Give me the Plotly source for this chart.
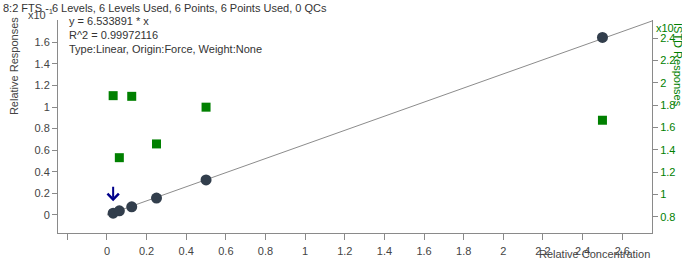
import plotly.graph_objects as go

# ---- data ----
conc = [0.03125, 0.0625, 0.125, 0.25, 0.5, 2.5]
rel_resp = [0.17, 0.38, 0.76, 1.57, 3.25, 16.45]          # x10^1 displayed
istd_resp = [1.885, 1.33, 1.879, 1.453, 1.782, 1.665]      # right axis units
slope = 6.533891
fit_x = [0.0, 2.75]
fit_y = [slope * v for v in fit_x]

x_ticks = [-0.2, 0, 0.2, 0.4, 0.6, 0.8, 1, 1.2, 1.4, 1.6, 1.8, 2, 2.2, 2.4, 2.6]
x_ticktext = ["", "0", "0.2", "0.4", "0.6", "0.8", "1", "1.2", "1.4", "1.6", "1.8", "2", "2.2", "2.4", "2.6"]
y_ticks = [0, 2, 4, 6, 8, 10, 12, 14, 16]
y_ticktext = ["0", "0.2", "0.4", "0.6", "0.8", "1", "1.2", "1.4", "1.6"]
y2_ticks = [0.8, 1.0, 1.2, 1.4, 1.6, 1.8, 2.0, 2.2, 2.4]
y2_ticktext = ["0.8", "1", "1.2", "1.4", "1.6", "1.8", "2", "2.2", "2.4"]

title = "8:2 FTS - 6 Levels, 6 Levels Used, 6 Points, 6 Points Used, 0 QCs"
eq_lines = ["y = 6.533891 * x", "R^2 = 0.99972116", "Type:Linear, Origin:Force, Weight:None"]

FONT = "Liberation Sans, Arial, sans-serif"
TXT = "#444444"
AX = "#8a8a8a"
GREEN = "#008000"

fig = go.Figure()
fig.add_trace(go.Scatter(x=fit_x, y=fit_y, mode="lines",
                         line=dict(color="#8c8c8c", width=1), hoverinfo="skip"))
fig.add_trace(go.Scatter(x=conc, y=istd_resp, mode="markers", yaxis="y2",
                         marker=dict(symbol="square", size=9, color=GREEN)))
fig.add_trace(go.Scatter(x=conc, y=rel_resp, mode="markers",
                         marker=dict(symbol="circle", size=11, color="#323e4c")))

fig.update_layout(
    width=682, height=262,
    margin=dict(l=58, r=30, t=20, b=29, pad=0),
    paper_bgcolor="white", plot_bgcolor="white",
    showlegend=False,
    font=dict(family=FONT, size=11, color=TXT),
    xaxis=dict(range=[-0.247, 2.75], tickmode="array", tickvals=x_ticks, ticktext=x_ticktext,
               automargin=False, ticklabelstandoff=2,
               showgrid=False, zeroline=False, showline=True, linecolor=AX, linewidth=1,
               ticks="outside", ticklen=6, tickcolor=AX, tickfont=dict(size=11, color=TXT)),
    yaxis=dict(range=[-1.67, 18.06], tickmode="array", tickvals=y_ticks, ticktext=y_ticktext,
               automargin=False,
               showgrid=False, zeroline=False, showline=True, linecolor=AX, linewidth=1,
               ticks="outside", ticklen=5, tickcolor=AX, tickfont=dict(size=11, color=TXT)),
    yaxis2=dict(range=[0.656, 2.562], overlaying="y", side="right", tickmode="array",
                tickvals=y2_ticks, ticktext=y2_ticktext, automargin=False,
                showgrid=False, zeroline=False, showline=True, linecolor=AX, linewidth=1,
                ticks="outside", ticklen=5, tickcolor=AX, tickfont=dict(size=11, color=GREEN)),
)

ann = []
ann.append(dict(text=title, xref="paper", yref="paper", x=-0.096, y=1.0, yshift=12,
                xanchor="left", yanchor="middle", showarrow=False, font=dict(size=11, color="#333333")))
for i, line in enumerate(eq_lines):
    ann.append(dict(text=line, xref="paper", yref="paper", x=0.015, y=1.0, yshift=-1 - 14 * i,
                    xanchor="left", yanchor="middle", showarrow=False, font=dict(size=11, color="#333333")))
ann.append(dict(text="x10 <sup>1</sup>", xref="paper", yref="paper", x=-0.005, y=1.0, yshift=6,
                xanchor="right", yanchor="middle", showarrow=False, font=dict(size=11, color=TXT)))
ann.append(dict(text="Relative Responses", xref="paper", yref="paper", x=-0.073, y=0.782,
                xanchor="center", yanchor="middle", textangle=-90, showarrow=False,
                font=dict(size=11, color=TXT)))
ann.append(dict(text="x10", xref="paper", yref="paper", x=1.003, y=1.0, yshift=-8,
                xanchor="left", yanchor="middle", showarrow=False, font=dict(size=11, color=GREEN)))
ann.append(dict(text="ISTD Responses", xref="paper", yref="paper", x=1.045, y=0.79,
                xanchor="center", yanchor="middle", textangle=90, showarrow=False,
                font=dict(size=11, color=GREEN)))
ann.append(dict(text="Relative Concentration", xref="paper", yref="paper", x=1.0, y=0.0, yshift=-29,
                xanchor="right", yanchor="bottom", showarrow=False, font=dict(size=11, color=TXT)))
ann.append(dict(text="", x=conc[0], y=rel_resp[0], xref="x", yref="y", yshift=12,
                showarrow=True, ax=0, ay=-16, arrowhead=4, arrowsize=1.1, arrowwidth=2,
                arrowcolor="#00008b", standoff=0))
fig.update_layout(annotations=ann)

fig.write_html("out.html", config={"displayModeBar": False},
               post_script="document.body.style.margin='0px';document.body.style.overflow='hidden';")
